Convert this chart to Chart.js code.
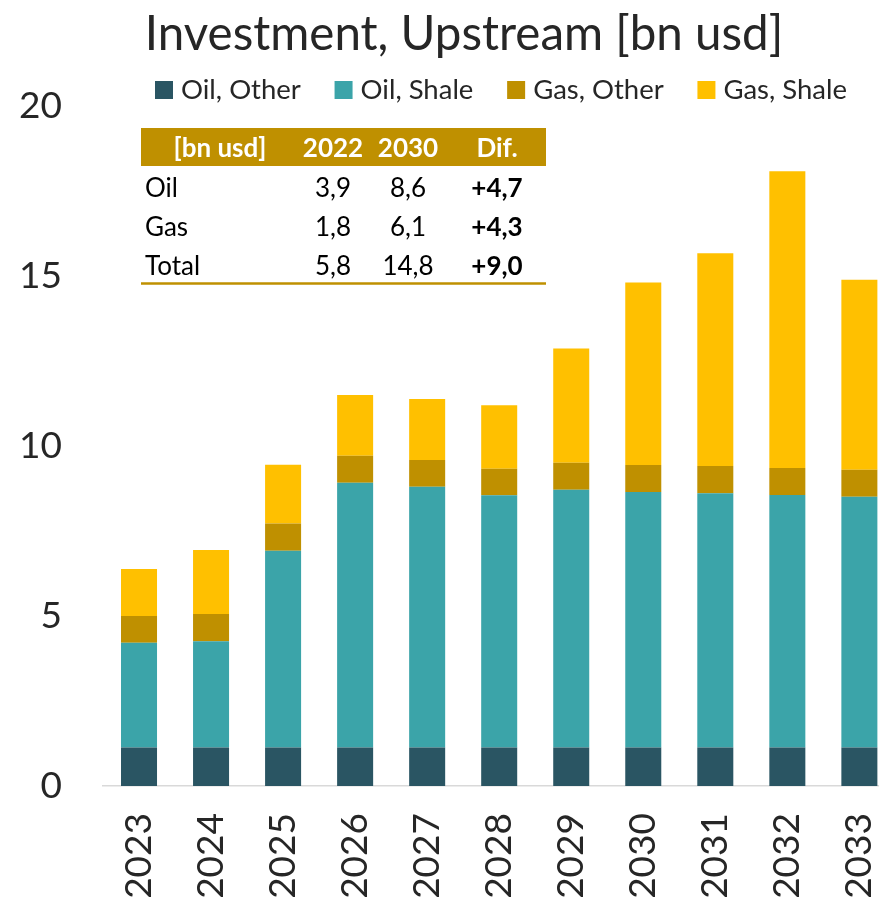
<!DOCTYPE html>
<html>
<head>
<meta charset="utf-8">
<title>Investment, Upstream</title>
<script src="https://cdn.jsdelivr.net/npm/chart.js@4/dist/chart.umd.min.js"></script>
<style>
  html, body { margin: 0; padding: 0; background: #fff; overflow: hidden; }
  #investChart { position: absolute; left: 0; top: 0; }
</style>
</head>
<body>
<canvas id="investChart" width="931" height="898"></canvas>
<script>
//chart data
var chartTitle = "Investment, Upstream [bn usd]";
var years = ["2023", "2024", "2025", "2026", "2027", "2028", "2029", "2030", "2031", "2032", "2033"];
var oil_other = [1.13, 1.13, 1.13, 1.13, 1.13, 1.13, 1.13, 1.13, 1.13, 1.13, 1.13];
var oil_shale = [3.08, 3.13, 5.79, 7.79, 7.67, 7.42, 7.58, 7.52, 7.48, 7.43, 7.38];
var gas_other = [0.79, 0.80, 0.80, 0.79, 0.79, 0.78, 0.80, 0.79, 0.80, 0.79, 0.79];
var gas_shale = [1.38, 1.88, 1.73, 1.79, 1.79, 1.87, 3.36, 5.37, 6.26, 8.73, 5.59];
var y_ticks = [0, 5, 10, 15, 20];

//summary table
var table_header = ["[bn usd]", "2022", "2030", "Dif."];
var table_rows = ["Oil", "Gas", "Total"];
var table_2022 = ["3,9", "1,8", "5,8"];
var table_2030 = ["8,6", "6,1", "14,8"];
var table_dif = ["+4,7", "+4,3", "+9,0"];

var gold = "#BF9000";
var text_color = "#262626";

//draws title, legend and the table on top of the chart
var overlayPlugin = {
    id: "overlay",
    afterDraw: function (chart) {
        var ctx = chart.ctx;
        ctx.save();

        //title
        ctx.font = "47.5px Lato";
        ctx.fillStyle = text_color;
        ctx.textAlign = "center";
        ctx.textBaseline = "alphabetic";
        ctx.fillText(chartTitle, 464, 50);

        //legend, spread between x=155 and x=847
        ctx.font = "27.5px Lato";
        var datasets = chart.data.datasets;
        var widths = datasets.map(function (ds) { return ctx.measureText(ds.label).width; });
        var used = 0;
        widths.forEach(function (w) { used += 18 + 8 + w; });
        var gap = (692 - used) / (datasets.length - 1);
        var x = 155;
        ctx.textAlign = "left";
        datasets.forEach(function (ds, i) {
            ctx.fillStyle = ds.backgroundColor;
            ctx.fillRect(x, 81, 18, 18);
            ctx.fillStyle = text_color;
            ctx.fillText(ds.label, x + 26, 99);
            x += 26 + widths[i] + gap;
        });

        //table header
        ctx.fillStyle = gold;
        ctx.fillRect(141, 128, 405, 38);
        ctx.fillStyle = "#ffffff";
        ctx.font = "bold 26px Lato";
        ctx.textAlign = "center";
        var cols = [220, 333, 408, 497];
        table_header.forEach(function (h, i) {
            ctx.fillText(h, cols[i], 157);
        });

        //table rows
        var baselines = [197, 236, 275];
        ctx.fillStyle = "#000000";
        table_rows.forEach(function (name, i) {
            ctx.font = "26px Lato";
            ctx.textAlign = "left";
            ctx.fillText(name, 145, baselines[i]);
            ctx.textAlign = "center";
            ctx.fillText(table_2022[i], cols[1], baselines[i]);
            ctx.fillText(table_2030[i], cols[2], baselines[i]);
            ctx.font = "bold 26px Lato";
            ctx.fillText(table_dif[i], cols[3], baselines[i]);
        });

        //line under the table
        ctx.strokeStyle = gold;
        ctx.lineWidth = 2.5;
        ctx.beginPath();
        ctx.moveTo(141, 283.5);
        ctx.lineTo(546, 283.5);
        ctx.stroke();

        ctx.restore();
    }
};

var invest_chart = document.getElementById("investChart").getContext("2d");
var chart = new Chart(invest_chart, {
    type: "bar",
    data: {
        labels: years,
        datasets: [{
                label: "Oil, Other",
                backgroundColor: "#2A5563",
                data: oil_other
            },
            {
                label: "Oil, Shale",
                backgroundColor: "#3BA4A9",
                data: oil_shale
            },
            {
                label: "Gas, Other",
                backgroundColor: "#BF9000",
                data: gas_other
            },
            {
                label: "Gas, Shale",
                backgroundColor: "#FFC000",
                data: gas_shale
            }]
    },
    options: {
        responsive: false,
        animation: false,
        layout: {
            padding: { top: 106, right: 5, left: 0, bottom: 0 }
        },
        datasets: {
            bar: {
                barPercentage: 0.5,
                categoryPercentage: 1
            }
        },
        plugins: {
            legend: { display: false },
            title: { display: false },
            tooltip: { enabled: false }
        },
        scales: {
            x: {
                stacked: true,
                grid: { display: false, drawTicks: false },
                border: { display: true, color: "#d9d9d9", width: 1.5 },
                ticks: {
                    font: { family: "Lato", size: 37 },
                    color: text_color,
                    minRotation: 90,
                    maxRotation: 90,
                    padding: 27
                },
                afterFit: function (scale) { scale.height = 112; }
            },
            y: {
                stacked: true,
                min: 0,
                max: 20,
                afterBuildTicks: function (scale) {
                    scale.ticks = y_ticks.map(function (v) { return { value: v }; });
                },
                grid: { display: false, drawTicks: false },
                border: { display: false },
                ticks: {
                    font: { family: "Lato", size: 37 },
                    color: text_color,
                    padding: 41
                },
                afterFit: function (scale) { scale.width = 103; }
            }
        }
    },
    plugins: [overlayPlugin]
});
</script>
</body>
</html>
